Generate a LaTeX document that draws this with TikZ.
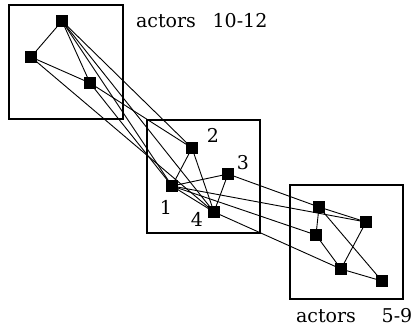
\documentclass[tikz,border=0pt]{standalone}
\usepackage{fontspec}
\setmainfont{DejaVu Serif}
\begin{document}
\begin{tikzpicture}[x=1pt,y=-1pt,
  actor/.style={draw=black,fill=black,minimum size=11pt,inner sep=0pt,rectangle},
  tie/.style={draw=black,line width=0.9pt},
  group/.style={draw=black,line width=1.3pt},
  lab/.style={font=\fontsize{19}{22}\selectfont,inner sep=0pt,anchor=base}]
\useasboundingbox (0,0) rectangle (413,330);
% group boxes
\draw[group] (9,5) rectangle (123,119);
\draw[group] (147,120) rectangle (260,233);
\draw[group] (290,185) rectangle (403,299);
% actors 10-12
\node[actor] (A) at (62,21) {};
\node[actor] (B) at (31,57) {};
\node[actor] (C) at (90,83) {};
% actors 1-4
\node[actor] (n1) at (172,186) {};
\node[actor] (n2) at (192,148) {};
\node[actor] (n3) at (228,174) {};
\node[actor] (n4) at (214,212) {};
% actors 5-9
\node[actor] (P) at (319,207) {};
\node[actor] (Q) at (366,222) {};
\node[actor] (R) at (316,235) {};
\node[actor] (S) at (341,269) {};
\node[actor] (T) at (382,281) {};
% ties
\begin{scope}[on background layer/.style={}]
\draw[tie] (A.center) -- (B.center);
\draw[tie] (A.center) -- (C.center);
\draw[tie] (B.center) -- (C.center);
\draw[tie] (A.center) -- (n2.center);
\draw[tie] (A.center) -- (n1.center);
\draw[tie] (A.center) -- (n4.center);
\draw[tie] (B.center) -- (n4.center);
\draw[tie] (C.center) -- (n1.center);
\draw[tie] (C.center) -- (n2.center);
\draw[tie] (n1.center) -- (n2.center);
\draw[tie] (n1.center) -- (n3.center);
\draw[tie] (n1.center) -- (n4.center);
\draw[tie] (n2.center) -- (n4.center);
\draw[tie] (n3.center) -- (n4.center);
\draw[tie] (n3.center) -- (P.center);
\draw[tie] (n1.center) -- (Q.center);
\draw[tie] (n1.center) -- (R.center);
\draw[tie] (n4.center) -- (S.center);
\draw[tie] (P.center) -- (Q.center);
\draw[tie] (P.center) -- (R.center);
\draw[tie] (P.center) -- (T.center);
\draw[tie] (R.center) -- (S.center);
\draw[tie] (Q.center) -- (S.center);
\draw[tie] (S.center) -- (T.center);
\end{scope}
% labels
\node[lab] (l1) at (166,214) {1};
\node[lab] (l2) at (213,142) {2};
\node[lab] (l3) at (243,169) {3};
\node[lab] (l4) at (197,226) {4};
\node[lab] (t1) at (166,27) {actors};
\node[lab] (t2) at (240,27) {10-12};
\node[lab] (t3) at (326,322) {actors};
\node[lab] (t4) at (397,322) {5-9};
\end{tikzpicture}
\end{document}
